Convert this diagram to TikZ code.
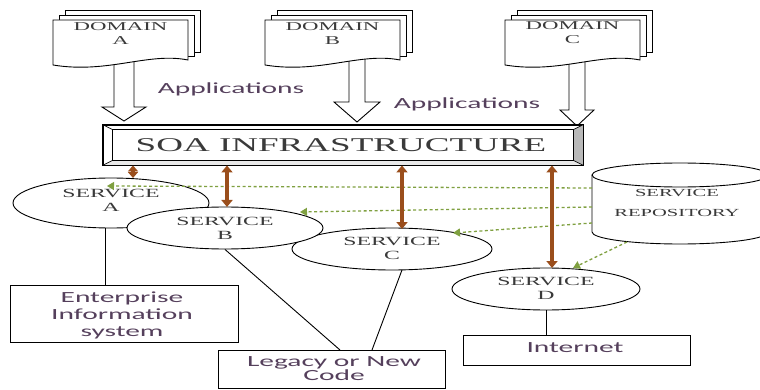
\documentclass[tikz,border=0pt]{standalone}
\usepackage{fontspec}
\usetikzlibrary{shapes.geometric,arrows.meta,calc}
\newfontfamily\wideserif{Liberation Serif}[FakeStretch=1.9]
\newfontfamily\widesans{Carlito}[FakeStretch=1.9]
\definecolor{labelgray}{HTML}{3A3A3A}
\definecolor{sansink}{HTML}{55405C}
\definecolor{linkbrown}{HTML}{9A4E1C}
\definecolor{regreen}{HTML}{7FA040}

% a stack of three pages with a wavy bottom on the front one; #1 = left x
\newcommand\pagestack[1]{%
  \draw[page] (#1+12,10) rectangle (#1+147,52);
  \draw[page] (#1+6,15) rectangle (#1+141,56);
  \draw[page] (#1,20) -- (#1+135,20) -- (#1+135,60)
     .. controls (#1+95,52) and (#1+55,74) .. (#1,65) -- cycle;
}
% hollow block arrow: #1 start, #2 tip, #3 half shaft, #4 half head, #5 head length
\newcommand\blockarrow[5]{%
  \draw[hollow] let \p1=(#1), \p2=(#2) in
    (\x2-#3pt,\y1) -- (\x2-#3pt,\y2+#5pt) -- (\x2-#4pt,\y2+#5pt) -- (\x2,\y2)
    -- (\x2+#4pt,\y2+#5pt) -- (\x2+#3pt,\y2+#5pt) -- (\x2+#3pt,\y1) -- cycle;
}

\begin{document}
\begin{tikzpicture}[x=1pt,y=-1pt,
  page/.style={draw=black,line width=0.9pt,fill=white},
  hollow/.style={draw=black,line width=0.9pt,fill=white},
  svc/.style={ellipse,draw=black,line width=0.9pt,fill=white,inner sep=0pt},
  svctext/.style={font=\wideserif\fontsize{12.5}{14}\selectfont,text=labelgray,align=center,inner sep=0pt},
  domtext/.style={font=\wideserif\fontsize{12}{14}\selectfont,text=labelgray,align=center,inner sep=0pt},
  reptext/.style={font=\wideserif\fontsize{10.8}{20}\selectfont,text=labelgray,align=center,inner sep=0pt},
  sanstext/.style={font=\widesans\fontsize{15.5}{17}\selectfont,text=sansink,align=center,inner sep=0pt},
  boxnode/.style={draw=black,line width=0.9pt,fill=white,inner sep=0pt},
  biarrow/.style={draw=linkbrown,line width=4pt,{Triangle[width=11pt,length=7pt]}-{Triangle[width=11pt,length=7pt]}},
  lookup/.style={draw=regreen,line width=1.3pt,dash pattern=on 3pt off 2.5pt,-{Triangle[width=8pt,length=7pt]}},
  wire/.style={draw=black,line width=0.9pt}]
\useasboundingbox (0,0) rectangle (760,390);

% ---------- domains and their application arrows ----------
\coordinate (tipA) at (124,121);
\coordinate (tipB) at (357,122);
\coordinate (tipC) at (577,126);
\blockarrow{124,58}{tipA}{10}{22}{14}
\blockarrow{357,58}{tipB}{8}{23}{20}
\blockarrow{577,58}{tipC}{8}{17}{16}
\pagestack{53}
\pagestack{265}
\pagestack{505}
\node[domtext] (domA) at (120.5,34) {DOMAIN\\A};
\node[domtext] (domB) at (332.5,34) {DOMAIN\\B};
\node[domtext] (domC) at (572.5,33) {DOMAIN\\C};

\node[sanstext] (app1) at (231,89) {Applications};
\node[sanstext] (app2) at (467,104) {Applications};

% ---------- bevelled infrastructure bar ----------
\node[draw=black,line width=0.9pt,fill=white,minimum width=480pt,minimum height=40pt,inner sep=0pt] (soa) at (343,145) {};
\coordinate (iNW) at ($(soa.north west)+(10,5)$);
\coordinate (iNE) at ($(soa.north east)+(-10,5)$);
\coordinate (iSE) at ($(soa.south east)+(-10,-5)$);
\coordinate (iSW) at ($(soa.south west)+(10,-5)$);
\fill[gray!55] (soa.north east) -- (soa.south east) -- (iSE) -- (iNE) -- cycle;
\fill[gray!18] (soa.south west) -- (soa.south east) -- (iSE) -- (iSW) -- cycle;
\draw[line width=0.9pt] (soa.north west) rectangle (soa.south east);
\draw[line width=0.9pt] (iNW) rectangle (iSE);
\draw[line width=0.7pt] (soa.north west) -- (iNW) (soa.north east) -- (iNE)
  (soa.south east) -- (iSE) (soa.south west) -- (iSW);
\node[font=\wideserif\fontsize{19.5}{22}\selectfont,text=labelgray,inner sep=0pt] (soatext) at (341,145) {SOA INFRASTRUCTURE};

% ---------- services ----------
\node[svc,minimum width=200pt,minimum height=42pt] (svcC) at (392,249) {};
\node[svc,minimum width=196pt,minimum height=50pt] (svcA) at (111,203) {};
\node[svc,minimum width=196pt,minimum height=42pt] (svcB) at (225,228) {};
\node[svc,minimum width=188pt,minimum height=42pt] (svcD) at (546,289) {};
\node[svctext] (tA) at (111,200) {SERVICE\\A};
\node[svctext] (tB) at (225,228) {SERVICE\\B};
\node[svctext] (tC) at (392,248) {SERVICE\\C};
\node[svctext] (tD) at (546,288) {SERVICE\\D};

% ---------- service repository (cylinder) ----------
\draw[page] (592,175) -- (592,232) arc[start angle=180,end angle=360,x radius=88pt,y radius=12pt] -- (768,175);
\draw[page] (680,175) ellipse [x radius=88pt,y radius=12pt];
\node[reptext] (repo) at (677,203) {SERVICE\\REPOSITORY};

% ---------- lookups from the repository ----------
\coordinate (r1) at (592,188);
\coordinate (r2) at (592,207);
\coordinate (r3) at (592,223);
\coordinate (r4) at (627,242);
\coordinate (lA) at (107,186);
\coordinate (lB) at (300,212);
\coordinate (lC) at (453,233);
\coordinate (lD) at (573,268);
\draw[lookup] (r1) -- (lA);
\draw[lookup] (r2) -- (lB);
\draw[lookup] (r3) -- (lC);
\draw[lookup] (r4) -- (lD);

% ---------- bus connections ----------
\coordinate (bA) at (133,178);
\coordinate (bB) at (227,207);
\coordinate (bC) at (402,229);
\coordinate (bD) at (552,268);
\draw[draw=linkbrown,line width=4pt,{Triangle[width=10pt,length=6pt]}-{Triangle[width=10pt,length=6pt]}] (soa.south -| bA) -- (bA);
\draw[biarrow] (soa.south -| bB) -- (bB);
\draw[biarrow] (soa.south -| bC) -- (bC);
\draw[biarrow] (soa.south -| bD) -- (bD);

% ---------- back-end systems ----------
\node[boxnode,minimum width=228pt,minimum height=57pt] (ent) at (124,313.5) {};
\node[sanstext] (entt) at (122,315) {Enterprise\\Information\\system};
\node[boxnode,minimum width=227pt,minimum height=38pt] (leg) at (331.5,369) {};
\node[sanstext,font=\widesans\fontsize{15.5}{14}\selectfont] (legt) at (334,369) {Legacy or New\\Code};
\node[boxnode,minimum width=227pt,minimum height=30pt] (inet) at (576.5,350) {};
\node[sanstext] (inett) at (575,348) {Internet};

\coordinate (eA) at (105,285);
\coordinate (eB) at (340,350);
\coordinate (cBot) at (402,270);
\coordinate (eC) at (372,350);
\draw[wire] (eA |- svcA.south) -- (eA);
\draw[wire] (svcB.south) -- (eB);
\draw[wire] (cBot) -- (eC);
\draw[wire] (svcD.south) -- (svcD.south |- inet.north);
\end{tikzpicture}
\end{document}
